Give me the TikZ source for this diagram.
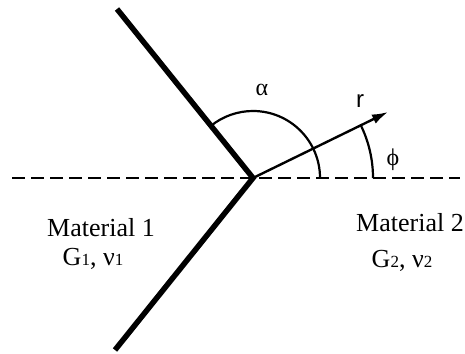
\documentclass[tikz,border=0pt]{standalone}
\usepackage{fontspec}
\setmainfont{Liberation Serif}
\newfontfamily\labsans{Liberation Sans}
\usetikzlibrary{arrows.meta}
\begin{document}
\begin{tikzpicture}[x=1pt,y=1pt,
  wall/.style={line width=5.5pt},
  axis/.style={line width=2.5pt,dash pattern=on 13pt off 6pt},
  anglearc/.style={line width=2.2pt},
  ray/.style={line width=2.4pt,-{Latex[length=16pt,width=10pt]}},
  mat/.style={font=\fontsize{26}{28}\selectfont,align=center,inner sep=0pt},
  lab/.style={font=\fontsize{24}{26}\selectfont,inner sep=0pt}]
\useasboundingbox (0,0) rectangle (465,353);
\coordinate (O) at (253,175);
\coordinate (U) at (117,344);
\coordinate (L) at (115,3);
\coordinate (DL) at (12,175);
\coordinate (DR) at (460,175);
\coordinate (T) at (388,241);
\draw[axis] (DL) -- (DR);
\draw[wall] (U) -- (O) -- (L);
\draw[ray] (O) -- (T);
\draw[anglearc] ([shift={(0:67)}]O) arc[start angle=0,end angle=128.8,radius=67];
\draw[anglearc] ([shift={(0:120)}]O) arc[start angle=0,end angle=26,radius=120];
\node[lab] (alpha) at (262,263) {α};
\node[lab] (r) at (360,252) {\labsans r};
\node[lab] (phi) at (393,193) {ϕ};
\node[mat] (m1) at (101,125) {Material 1};
\node[mat] (g1) at (93,94) {G{\fontsize{17}{18}\selectfont 1}, ν{\fontsize{17}{18}\selectfont 1}};
\node[mat] (m2) at (410,130) {Material 2};
\node[mat] (g2) at (402,92) {G{\fontsize{17}{18}\selectfont 2}, ν{\fontsize{17}{18}\selectfont 2}};
\end{tikzpicture}
\end{document}
